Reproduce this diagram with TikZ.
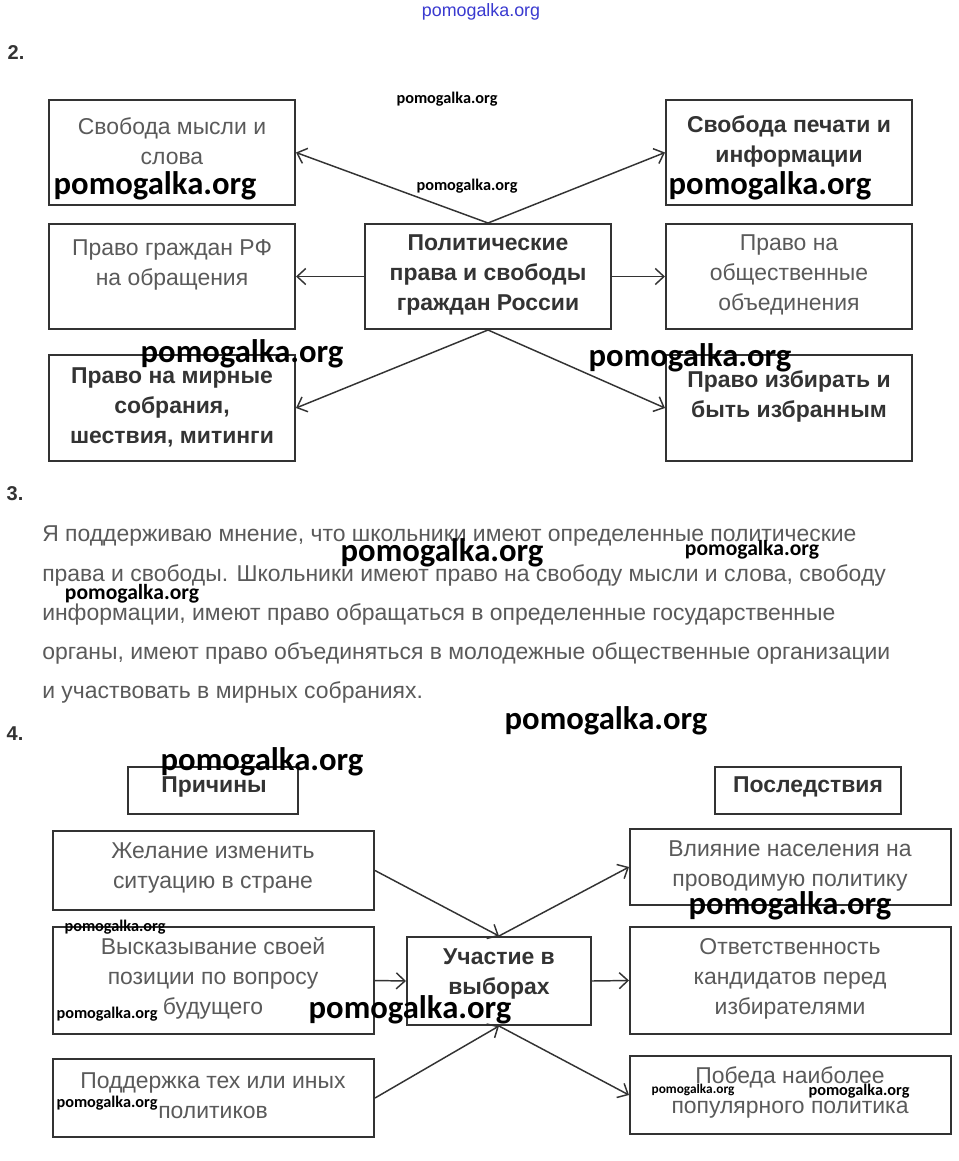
\documentclass[tikz,border=0pt]{standalone}
\usepackage{fontspec}
\setmainfont{Liberation Sans}
\newfontfamily\wmfont{Carlito}
\usetikzlibrary{arrows.meta,fit}
\definecolor{txt}{HTML}{5A5A5A}
\definecolor{btxt}{HTML}{333333}
\definecolor{frame}{HTML}{333333}
\definecolor{wmblue}{HTML}{3A3AD0}
\begin{document}
\begin{tikzpicture}[x=0.75pt,y=-0.75pt,
  box/.style={draw=frame, line width=1.5pt, inner sep=0pt},
  lbl/.style={align=center, text=txt, inner sep=0pt, font=\fontsize{17.2}{22.5}\selectfont},
  blbl/.style={align=center, text=btxt, inner sep=0pt, font=\bfseries\fontsize{17.2}{22.5}\selectfont},
  para/.style={anchor=base west, text=txt, inner sep=0pt, font=\fontsize{17.2}{22.5}\selectfont},
  num/.style={text=btxt, inner sep=0pt, font=\bfseries\fontsize{15}{18}\selectfont},
  conn/.style={draw=frame, line width=1.1pt, -{Straight Barb[length=6.5pt,width=12pt,line width=1.1pt]}},
  wmbig/.style={inner sep=0pt, font=\wmfont\bfseries\fontsize{24.5}{26}\selectfont},
  wmmid/.style={inner sep=0pt, font=\wmfont\bfseries\fontsize{16.2}{18}\selectfont},
  wmsmall/.style={inner sep=0pt, font=\wmfont\bfseries\fontsize{12.2}{14}\selectfont},
  wmtiny/.style={inner sep=0pt, font=\wmfont\bfseries\fontsize{10}{12}\selectfont}
]
\useasboundingbox (0,0) rectangle (959,1161);
\fill[white] (0,0) rectangle (959,1161);

% top watermark
\node[inner sep=0pt, text=wmblue, font=\fontsize{13.4}{15}\selectfont] (wmtop) at (481,12) {pomogalka.org};

% ---------- section 2 ----------
\node[num] (n2) at (16,53) {2.};

\node[box, fit={(49,100) (295,205)}] (A) {};
\node[box, fit={(666,100) (912,205)}] (B) {};
\node[box, fit={(49,224) (295,329)}] (C) {};
\node[box, fit={(365,224) (611,329)}] (P) {};
\node[box, fit={(666,224) (912,329)}] (D) {};
\node[box, fit={(49,355) (295,461)}] (E) {};
\node[box, fit={(666,355) (912,461)}] (F) {};

\node[lbl]  (tA) at (172,141.5) {Свобода мысли и\\слова};
\node[blbl] (tB) at (789,141.5) {Свобода печати и\\информации};
\node[lbl]  (tC) at (172,265) {Право граждан РФ\\на обращения};
\node[blbl] (tP) at (488,275) {Политические\\права и свободы\\граждан России};
\node[lbl]  (tD) at (789,275) {Право на\\общественные\\объединения};
\node[blbl] (tE) at (172,407) {Право на мирные\\собрания,\\шествия, митинги};
\node[blbl] (tF) at (789,396) {Право избирать и\\быть избранным};

\draw[conn] (P.north) -- (A.east);
\draw[conn] (P.north) -- (B.west);
\draw[conn] (P.west) -- (C.east);
\draw[conn] (P.east) -- (D.west);
\draw[conn] (P.south) -- (E.east);
\draw[conn] (P.south) -- (F.west);

% ---------- section 3 ----------
\node[num] (n3) at (15,494) {3.};
\node[para] (p1) at (42,541) {Я поддерживаю мнение, что школьники имеют определенные политические};
\node[para] (p2) at (42,581) {права и свободы. Школьники имеют право на свободу мысли и слова, свободу};
\node[para] (p3) at (42,620) {информации, имеют право обращаться в определенные государственные};
\node[para] (p4) at (42,659) {органы, имеют право объединяться в молодежные общественные организации};
\node[para] (p5) at (42,698) {и участвовать в мирных собраниях.};

% ---------- section 4 ----------
\node[num] (n4) at (15,734) {4.};

\node[box, fit={(128,767) (298,814)}] (K1) {};
\node[box, fit={(715,767) (901,814)}] (K2) {};
\node[blbl] (tK1) at (214,787) {Причины};
\node[blbl] (tK2) at (808,787) {Последствия};

\node[box, fit={(53,831) (374,910)}] (L1) {};
\node[box, fit={(53,927) (374,1034)}] (L2) {};
\node[box, fit={(53,1059) (374,1137)}] (L3) {};
\node[box, fit={(407,937) (591,1025)}] (U) {};
\node[box, fit={(630,829) (951,905)}] (R1) {};
\node[box, fit={(630,927) (951,1034)}] (R2) {};
\node[box, fit={(630,1056) (951,1134)}] (R3) {};

\node[lbl]  (tL1) at (213,868) {Желание изменить\\ситуацию в стране};
\node[lbl]  (tL2) at (213,978.5) {Высказывание своей\\позиции по вопросу\\будущего};
\node[lbl]  (tL3) at (213,1095.5) {Поддержка тех или иных\\политиков};
\node[blbl] (tU)  at (499,973.5) {Участие в\\выборах};
\node[lbl]  (tR1) at (790,866) {Влияние населения на\\проводимую политику};
\node[lbl]  (tR2) at (790,978.5) {Ответственность\\кандидатов перед\\избирателями};
\node[lbl]  (tR3) at (790,1092) {Победа наиболее\\популярного политика};

\draw[conn] (L1.east) -- (U.north);
\draw[conn] (L2.east) -- (U.west);
\draw[conn] (L3.east) -- (U.south);
\draw[conn] (U.north) -- (R1.west);
\draw[conn] (U.east) -- (R2.west);
\draw[conn] (U.south) -- (R3.west);

% ---------- watermarks ----------
\node[wmsmall] (w1) at (447,99) {pomogalka.org};
\node[wmsmall] (w2) at (467,186) {pomogalka.org};
\node[wmbig] (w3) at (155,186) {pomogalka.org};
\node[wmbig] (w4) at (770,186) {pomogalka.org};
\node[wmbig] (w5) at (242,354) {pomogalka.org};
\node[wmbig] (w6) at (690,358) {pomogalka.org};
\node[wmbig] (w7) at (442,553) {pomogalka.org};
\node[wmmid] (w8) at (752,550) {pomogalka.org};
\node[wmmid] (w9) at (132,594) {pomogalka.org};
\node[wmbig] (w10) at (606,721) {pomogalka.org};
\node[wmbig] (w11) at (262,762) {pomogalka.org};
\node[wmbig] (w12) at (790,906) {pomogalka.org};
\node[wmsmall] (w13) at (115,927) {pomogalka.org};
\node[wmsmall] (w14) at (107,1014) {pomogalka.org};
\node[wmbig] (w15) at (410,1010) {pomogalka.org};
\node[wmsmall] (w16) at (107,1103) {pomogalka.org};
\node[wmtiny] (w17) at (693,1090) {pomogalka.org};
\node[wmsmall] (w18) at (859,1091) {pomogalka.org};
\end{tikzpicture}
\end{document}
